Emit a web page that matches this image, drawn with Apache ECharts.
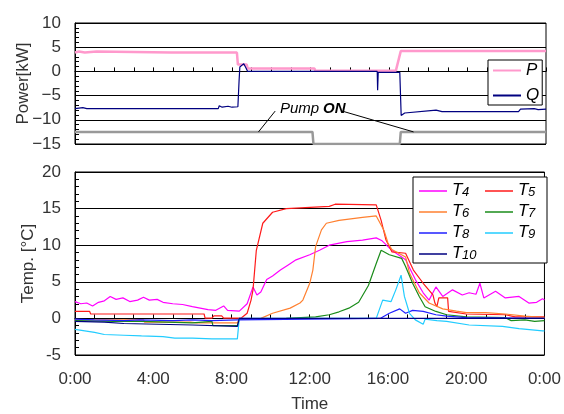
<!DOCTYPE html>
<html>
<head>
<meta charset="utf-8">
<script src="https://cdn.jsdelivr.net/npm/echarts@6/dist/echarts.min.js"></script>
<style>
  html, body { margin: 0; padding: 0; background: #fff; }
  #chart { width: 564px; height: 414px; }
</style>
</head>
<body>
<div id="chart"></div>
<script>
// time in hours
const pPower = [[0,3.9],[0.2,4.1],[0.5,3.9],[1.1,4.1],[1.2,3.9],[4.9,3.9],[5.0,4.1],[5.1,3.9],[8.25,3.9],[8.3,1.4],[8.75,1.4],[8.8,0.6],[12.2,0.6],[12.25,0.15],[16.35,0.15],[16.6,4.2],[17.2,4.2],[17.25,4.0],[17.3,4.2],[18.5,4.2],[18.55,4.0],[18.6,4.2],[20.1,4.2],[20.15,4.0],[20.2,4.2],[22.3,4.2],[22.35,4.0],[22.4,4.2],[24,4.2]];
const qPower = [[0,-7.7],[0.4,-7.5],[0.6,-7.7],[1.5,-7.7],[1.6,-7.5],[1.8,-7.7],[3.0,-7.7],[3.1,-7.5],[3.3,-7.7],[5.2,-7.7],[5.3,-7.5],[5.5,-7.7],[6.6,-7.7],[6.7,-7.5],[6.9,-7.7],[7.3,-7.7],[7.35,-7.1],[7.5,-7.4],[7.8,-7.2],[8.0,-7.4],[8.3,-7.3],[8.36,-2.0],[8.4,0.9],[8.5,1.0],[8.6,1.6],[8.7,0.8],[8.76,1.1],[8.8,0.0],[15.4,0.0],[15.42,-3.9],[15.45,-0.2],[16.55,-0.2],[16.62,-9.1],[16.8,-8.6],[16.9,-8.2],[18.4,-8.0],[18.5,-7.6],[18.7,-8.3],[20.0,-8.3],[20.1,-8.1],[20.3,-8.3],[22.6,-8.3],[22.7,-7.8],[23.4,-7.7],[23.6,-7.9],[24,-7.8]];
const pump = [[0,-12.5],[12.1,-12.5],[12.15,-15],[16.55,-15],[16.6,-12.5],[24,-12.5]];

const t4 = [[0,2.3],[0.3,2.0],[0.6,2.1],[0.9,1.7],[1.2,2.2],[1.5,2.4],[1.8,3.0],[2.1,2.6],[2.45,2.8],[2.8,2.3],[3.2,2.5],[3.5,2.9],[3.8,2.5],[4.2,2.6],[4.5,2.2],[5.0,2.0],[5.5,1.9],[6.0,1.6],[6.4,1.4],[6.8,1.2],[7.2,1.1],[7.6,1.7],[7.8,1.1],[8.4,1.0],[8.8,2.0],[9.1,4.3],[9.3,3.2],[9.5,3.6],[9.8,5.3],[10.1,5.8],[10.5,6.6],[10.9,7.3],[11.3,8.0],[12.0,8.7],[12.5,9.3],[13.0,10.0],[13.9,10.5],[14.7,10.7],[15.4,11.0],[15.7,10.6],[16.2,9.3],[16.9,8.0],[17.4,5.3],[17.8,3.5],[18.1,2.5],[18.45,4.3],[18.8,3.0],[19.3,3.9],[19.8,3.2],[20.15,3.5],[20.5,3.3],[20.7,4.8],[20.9,2.8],[21.5,3.7],[22.0,2.8],[22.7,3.0],[23.2,2.1],[23.6,2.2],[23.9,2.7],[24,2.5]];
const t5 = [[0,0.95],[0.75,0.95],[0.8,0.6],[6.6,0.6],[6.65,0.05],[7.0,0.05],[7.1,0.35],[7.5,0.35],[7.6,0.05],[8.5,0.05],[8.8,0.7],[9.0,2.5],[9.1,3.9],[9.27,9.3],[9.6,13.0],[10.1,14.5],[10.8,15.0],[13.0,15.3],[13.3,15.6],[15.4,15.5],[15.5,15.3],[15.65,13.4],[15.9,10.7],[16.2,9.1],[16.9,8.9],[17.3,6.6],[17.8,4.8],[18.3,3.2],[18.4,2.1],[18.5,1.6],[18.6,2.8],[19.05,2.8],[19.1,0.95],[20.0,0.6],[22.0,0.5],[22.5,0.2],[24,0.2]];
const t6 = [[0,-0.2],[3.5,-0.2],[3.55,-0.5],[5.9,-0.5],[6.0,-0.3],[6.2,-0.6],[8.3,-0.6],[8.4,-0.1],[9.5,0.0],[10.1,0.7],[11.0,1.4],[11.5,2.1],[11.65,2.5],[12.0,4.8],[12.16,6.6],[12.3,9.8],[12.6,12.1],[12.85,13.0],[13.5,13.4],[14.7,13.8],[15.4,14.0],[15.8,12.0],[16.0,10.3],[16.2,9.4],[16.9,8.4],[17.1,6.2],[17.6,3.5],[18.1,2.1],[18.8,1.3],[19.5,1.0],[20.0,0.8],[21.0,0.8],[22.0,0.6],[23.0,0.3],[24,0.1]];
const t7 = [[0,-0.3],[2.0,-0.4],[3.4,-0.4],[3.45,-0.6],[6.0,-0.6],[6.1,-0.4],[7.0,-0.4],[7.05,-1.0],[8.3,-1.0],[8.4,-0.1],[10.8,0.0],[12.3,0.2],[13.0,0.5],[13.5,0.9],[14.0,1.4],[14.5,2.2],[15.0,4.5],[15.4,7.5],[15.65,9.3],[15.75,9.5],[16.07,8.7],[16.7,8.2],[16.9,7.1],[17.26,4.8],[17.6,3.0],[17.9,1.6],[18.45,0.95],[19.0,0.5],[20.0,0.2],[22.0,0.1],[22.3,-0.3],[23.0,-0.2],[23.5,-0.4],[24,-0.3]];
const t8 = [[0,-0.1],[1.0,-0.2],[2.5,-0.3],[3.3,-0.2],[5.0,-0.3],[6.0,-0.2],[7.0,-0.3],[8.3,-0.2],[8.4,0.0],[15.6,0.0],[16.07,0.7],[16.6,1.3],[16.9,0.7],[17.26,1.1],[17.8,0.95],[18.45,0.5],[19.0,0.3],[20.0,0.1],[24,0.0]];
const t9 = [[0,-1.5],[0.5,-1.7],[1.0,-1.9],[1.5,-2.2],[2.5,-2.3],[3.4,-2.4],[4.5,-2.5],[5.1,-2.7],[6.0,-2.7],[7.0,-2.8],[8.3,-2.8],[8.4,0.0],[15.4,0.0],[15.73,2.5],[16.16,2.3],[16.4,3.9],[16.67,5.9],[16.84,3.0],[17.1,0.7],[17.4,-0.2],[17.8,-0.8],[17.9,-0.1],[18.5,-0.3],[19.0,-0.4],[20.15,-0.9],[21.85,-1.1],[22.7,-1.4],[23.9,-1.7],[24,-1.7]];
const t10 = [[0,-0.4],[1.5,-0.5],[1.55,-0.7],[2.5,-0.7],[2.55,-0.9],[6.0,-0.9],[6.05,-1.1],[8.3,-1.1],[8.4,0.0],[24,0.0]];

const tempNames = ["T4", "T5", "T6", "T7", "T8", "T9", "T10"];
const tempData = [t4, t5, t6, t7, t8, t9, t10];
const tempColors = ["#ff00ff", "#ff1a1a", "#ff8030", "#1a8c1a", "#2020ff", "#22ccff", "#000080"];

const FONT = '"Liberation Sans", Arial, sans-serif';
const chart = echarts.init(document.getElementById("chart"));

const timeLabel = (v) => (v % 24) + ":00";

const xBase = (idx) => ({
  type: "value",
  gridIndex: idx,
  min: 0,
  max: 24,
  interval: 4,
  axisLine: { lineStyle: { color: "#000", width: 1 } },
  axisTick: { inside: true, length: 4, lineStyle: { color: "#000" } },
  minorTick: { show: true, splitNumber: 4, length: 4, lineStyle: { color: "#000" } },
  splitLine: { show: false },
});

const yBase = (idx, min, max) => ({
  type: "value",
  gridIndex: idx,
  min: min,
  max: max,
  interval: 5,
  axisLine: { show: true, lineStyle: { color: "#000", width: 1 } },
  axisTick: { show: true, inside: true, length: 4, lineStyle: { color: "#000" } },
  minorTick: { show: true, splitNumber: 5, length: 4, lineStyle: { color: "#000" } },
  splitLine: { show: true, lineStyle: { color: "#000", width: 1 } },
  nameLocation: "middle",
  nameRotate: 90,
  nameMoveOverlap: false,
  nameTextStyle: { fontSize: 17, color: "#333", fontFamily: FONT },
});

const tempSeries = tempNames.map((name, i) => ({
  name: name,
  type: "line",
  xAxisIndex: 1,
  yAxisIndex: 1,
  data: tempData[i],
  symbol: "none",
  lineStyle: { color: tempColors[i], width: 1.2 },
  itemStyle: { color: tempColors[i] },
}));

const option = {
  animation: false,
  backgroundColor: "#fff",
  textStyle: { fontFamily: FONT },
  grid: [
    { left: 75, right: 18, top: 23, height: 121, show: true, borderColor: "#000", borderWidth: 1 },
    { left: 75, right: 18, top: 172, height: 184, show: true, borderColor: "#000", borderWidth: 1 },
  ],
  xAxis: [
    Object.assign(xBase(0), { axisLabel: { show: false } }),
    Object.assign(xBase(1), {
      axisLabel: { formatter: timeLabel, fontSize: 17, margin: 16, color: "#333", fontFamily: FONT },
      name: "Time",
      nameLocation: "middle",
      nameGap: 41,
      nameMoveOverlap: false,
      nameTextStyle: { fontSize: 17, color: "#333", fontFamily: FONT },
    }),
  ],
  yAxis: [
    Object.assign(yBase(0, -15, 10), {
      name: "Power[kW]",
      nameGap: 43,
      axisLabel: { fontSize: 17, margin: 14, color: "#333", fontFamily: FONT, formatter: (v) => String(v).replace("-", "\u2212") },
    }),
    Object.assign(yBase(1, -5, 20), {
      name: "Temp. [°C]",
      nameGap: 38,
      axisLabel: { fontSize: 17, margin: 14, color: "#333", fontFamily: FONT },
    }),
  ],
  legend: [
    {
      data: ["P", "Q"],
      orient: "vertical",
      left: 488,
      top: 60,
      icon: "rect",
      itemWidth: 28,
      itemHeight: 2,
      itemGap: 8,
      padding: [2, 3, 1, 5],
      backgroundColor: "#fff",
      borderColor: "#000",
      borderWidth: 1,
      borderRadius: 0,
      textStyle: { fontSize: 17, fontStyle: "italic", color: "#000", fontFamily: FONT, lineHeight: 16 },
    },
    {
      data: tempNames,
      orient: "horizontal",
      left: 413,
      top: 177,
      width: 150,
      icon: "rect",
      itemWidth: 28,
      itemHeight: 1.5,
      itemGap: 4,
      padding: [5, 0, 1, 6],
      backgroundColor: "#fff",
      borderColor: "#000",
      borderWidth: 1,
      borderRadius: 0,
      formatter: (name) => "{t|T}{s|" + name.slice(1) + "}",
      textStyle: {
        rich: {
          t: { fontSize: 17, fontStyle: "italic", color: "#000", fontFamily: FONT, width: 10, lineHeight: 16, verticalAlign: "bottom" },
          s: { fontSize: 13, fontStyle: "italic", color: "#000", fontFamily: FONT, width: 19, lineHeight: 16, verticalAlign: "bottom", padding: [3, 0, 0, 0] },
        },
      },
    },
  ],
  graphic: [
    { type: "text", left: 280, top: 101, style: { text: "Pump", font: 'italic 15px "Liberation Sans"', fill: "#000" } },
    { type: "text", left: 323, top: 101, style: { text: "ON", font: 'italic bold 15px "Liberation Sans"', fill: "#000" } },
  ],
  series: [
    {
      name: "Pump",
      type: "line",
      xAxisIndex: 0,
      yAxisIndex: 0,
      data: pump,
      symbol: "none",
      lineStyle: { color: "#999", width: 2.5 },
      markLine: {
        silent: true,
        symbol: ["none", "none"],
        label: { show: false },
        lineStyle: { color: "#000", width: 1, type: "solid" },
        data: [
          [{ coord: [9.35, -12.5] }, { coord: [10.2, -8.2] }],
          [{ coord: [13.7, -8.3] }, { coord: [17.25, -12.5] }],
        ],
      },
    },
    {
      name: "P",
      type: "line",
      xAxisIndex: 0,
      yAxisIndex: 0,
      data: pPower,
      symbol: "none",
      lineStyle: { color: "#ff99cc", width: 2.5 },
      itemStyle: { color: "#ff99cc" },
    },
    {
      name: "Q",
      type: "line",
      xAxisIndex: 0,
      yAxisIndex: 0,
      data: qPower,
      symbol: "none",
      lineStyle: { color: "#000080", width: 1.2 },
      itemStyle: { color: "#000080" },
    },
    ...tempSeries,
  ],
};

chart.setOption(option);
</script>
</body>
</html>
